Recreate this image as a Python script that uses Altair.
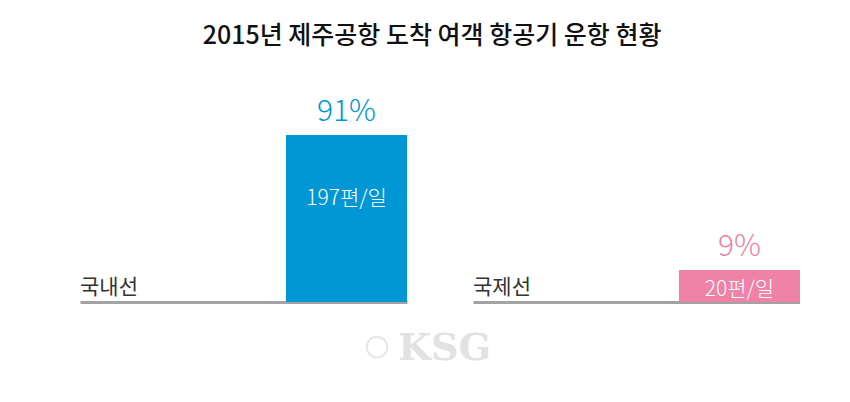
import altair as alt
import pandas as pd

categories = ["국내선", "국제선"]
shares = [91, 9]
share_labels = ["91%", "9%"]
flight_labels = ["197편/일", "20편/일"]
colors = ["#0097d4", "#ee82a7"]

# visual level scale (bars in the original are not drawn proportionally)
Y_MIN, Y_MAX = -10.4, 120.1

df = pd.DataFrame({
    "cat": categories,
    "share": shares,
    "share_label": share_labels,
    "flight_label": flight_labels,
})

FONT = "Noto Sans CJK KR"
PANEL_W, PANEL_H = 327, 215


def panel(i, inner_dy, watermark=False):
    d = df.iloc[[i]]
    base = alt.Chart(d)
    x = alt.X("cat:N",
              scale=alt.Scale(paddingInner=0, paddingOuter=0.851, align=1),
              axis=alt.Axis(title=None, labels=False, ticks=False, grid=False,
                            domainColor="#a3a3a3", domainWidth=3))
    y = alt.Y("share:Q", scale=alt.Scale(domain=[Y_MIN, Y_MAX], nice=False, zero=False),
              axis=None)
    bar = base.mark_bar(color=colors[i]).encode(x=x, y=y, y2=alt.datum(Y_MIN))
    pct = base.mark_text(color=colors[i], fontSize=30, font=FONT, fontWeight=300,
                         baseline="alphabetic", dy=-14).encode(x=x, y=y, text="share_label:N")
    inner = base.mark_text(color="white", fontSize=21, font=FONT, fontWeight=300,
                           baseline="alphabetic", dy=inner_dy).encode(x=x, y=y, text="flight_label:N")
    lab = base.mark_text(color="#333333", fontSize=21, font=FONT, fontWeight=400,
                         align="left", baseline="bottom", dy=-4).encode(
        x=alt.value(0), y=alt.datum(Y_MIN), text="cat:N")
    layers = [bar, pct, inner, lab]
    if watermark:
        wm = base.mark_text(text="KSG", color="#e2e2e2", fontSize=38, font="DejaVu Serif",
                            fontWeight="bold", align="left", baseline="middle").encode(
            x=alt.value(318), y=alt.value(262))
        logo = base.mark_point(shape="circle", size=420, color="#dedede", strokeWidth=2,
                               filled=False).encode(x=alt.value(297), y=alt.value(260))
        layers += [logo, wm]
    return alt.layer(*layers).properties(width=PANEL_W, height=PANEL_H)


chart = alt.hconcat(panel(0, 70, watermark=True), panel(1, 26), spacing=66,
                    bounds="flush").properties(
    title=alt.TitleParams("2015년 제주공항 도착 여객 항공기 운항 현황", fontSize=25,
                          font=FONT, fontWeight=500, color="#111111", anchor="middle",
                          offset=38, dx=-8),
    padding={"left": 72, "top": 16, "right": 0, "bottom": 0},
).configure(background="white").configure_view(stroke=None)

chart.save("out.html", embed_options={"renderer": "svg", "actions": False})
